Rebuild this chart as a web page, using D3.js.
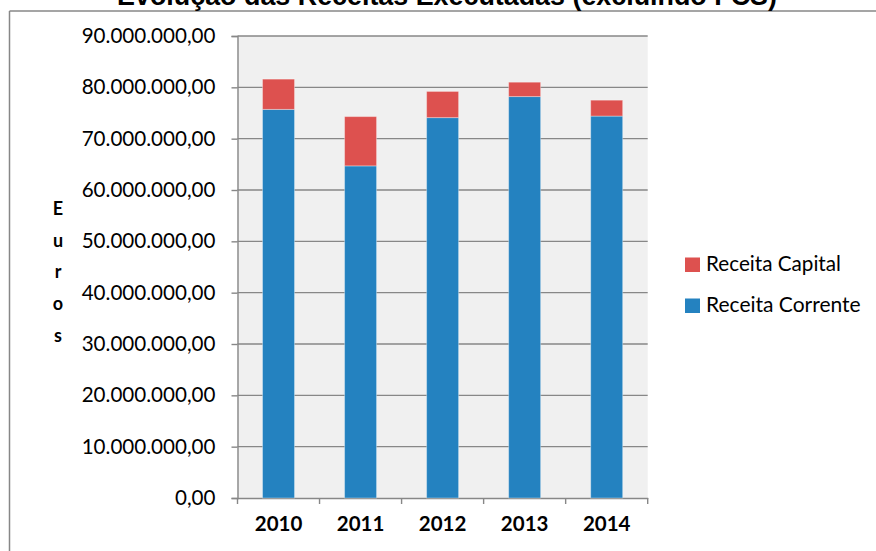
<!DOCTYPE html>
<html><head><meta charset="utf-8">
<script src="https://cdn.jsdelivr.net/npm/d3@7"></script>
<style>body{margin:0;background:#fff;}svg{display:block;}</style>
</head><body>
<svg id="c" width="876" height="551"></svg>
<script>
const years = ["2010","2011","2012","2013","2014"];
const receitaCorrente = [75700000, 64700000, 74100000, 78200000, 74400000];
const receitaCapital  = [5900000, 9600000, 5100000, 2800000, 3100000];
const yTicks = [0,10000000,20000000,30000000,40000000,50000000,60000000,70000000,80000000,90000000];
const seriesNames = ["Receita Capital","Receita Corrente"];
const title = "Evolução das Receitas Executadas (excluindo FCS)";
const axisTitle = "Euros";

const svg = d3.select("#c");
const L = 237.5, R = 647.7, T = 36, B = 498;
const grid = "#878787";
const colors = {cap:"#dd514f", cor:"#2482c0"};
const fmt = d3.formatLocale({decimal:",", thousands:".", grouping:[3], currency:["","€"]}).format(",.2f");

// border
svg.append("line").attr("x1",9.5).attr("x2",880).attr("y1",11).attr("y2",11).attr("stroke",grid).attr("stroke-width",1.5);
svg.append("line").attr("x1",9.5).attr("x2",9.5).attr("y1",11).attr("y2",560).attr("stroke",grid).attr("stroke-width",1.5);

// title
const tt = svg.append("text").text(title).attr("x",447).attr("y",4.5).attr("text-anchor","middle")
  .attr("font-family","'Liberation Sans', Arial, sans-serif").attr("font-weight","bold").attr("font-size",20);
const tl = tt.node().getComputedTextLength();
tt.attr("font-size", 20*660/tl);

const x = d3.scaleBand().domain(years).range([L, R]).padding(0);
const y = d3.scaleLinear().domain([0, 90000000]).range([B, T]);

svg.append("rect").attr("x",L).attr("y",T).attr("width",R-L).attr("height",B-T).attr("fill","#f0f0f0");

// gridlines
svg.append("g").selectAll("line").data(yTicks.filter(d=>d>0)).join("line")
  .attr("x1",L).attr("x2",R).attr("y1",d=>y(d)).attr("y2",d=>y(d))
  .attr("stroke",grid).attr("stroke-width",1.4);

// y axis
const yAxis = svg.append("g").attr("transform",`translate(${L},0)`)
  .call(d3.axisLeft(y).tickValues(yTicks).tickFormat(fmt).tickSize(6).tickPadding(16));
yAxis.select(".domain").attr("stroke",grid).attr("stroke-width",1.4);
yAxis.selectAll(".tick line").attr("stroke",grid).attr("stroke-width",1.4);
yAxis.selectAll(".tick text").attr("font-family","Lato, sans-serif").attr("font-size",20.6).attr("fill","#000");

// x axis
const xAxis = svg.append("g").attr("transform",`translate(0,${B})`)
  .call(d3.axisBottom(x).tickSize(0).tickPadding(18));
xAxis.select(".domain").attr("stroke",grid).attr("stroke-width",1.4);
xAxis.selectAll(".tick text").attr("font-family","Lato, sans-serif").attr("font-weight","bold").attr("font-size",20.5).attr("fill","#000");
// boundary ticks
const bounds = years.map(d=>x(d)).concat([R]);
svg.append("g").selectAll("line").data(bounds).join("line")
  .attr("x1",d=>d).attr("x2",d=>d).attr("y1",B).attr("y2",B+6).attr("stroke",grid).attr("stroke-width",1.4);

// bars
const bw = x.bandwidth()*0.39;
const bars = svg.append("g");
years.forEach((yr,i)=>{
  const cx = x(yr) + x.bandwidth()/2;
  bars.append("rect").attr("x",cx-bw/2).attr("width",bw)
    .attr("y",y(receitaCorrente[i])).attr("height",y(0)-y(receitaCorrente[i]))
    .attr("fill",colors.cor).attr("stroke","rgba(255,255,255,0.35)").attr("stroke-width",1);
  bars.append("rect").attr("x",cx-bw/2).attr("width",bw)
    .attr("y",y(receitaCorrente[i]+receitaCapital[i])).attr("height",y(receitaCorrente[i])-y(receitaCorrente[i]+receitaCapital[i]))
    .attr("fill",colors.cap).attr("stroke","rgba(255,255,255,0.35)").attr("stroke-width",1);
});

// axis title
const letters = axisTitle.split("");
svg.append("g").selectAll("text").data(letters).join("text")
  .attr("x",58).attr("y",(d,i)=>215+i*31.7).attr("text-anchor","middle")
  .attr("font-family","Lato, sans-serif").attr("font-weight","bold").attr("font-size",18).text(d=>d);

// legend
const leg = svg.append("g");
const legCols = [colors.cap, colors.cor];
const legTargets = [135, 156];
seriesNames.forEach((n,i)=>{
  const yy = 257.5 + i*41;
  leg.append("rect").attr("x",685).attr("y",yy).attr("width",15).attr("height",14.5).attr("fill",legCols[i]);
  const t = leg.append("text").attr("x",706).attr("y",yy+13.5).text(n)
    .attr("font-family","Lato, sans-serif").attr("font-size",20).attr("fill","#000");
  const w = t.node().getComputedTextLength();
  t.attr("font-size", Math.min(21, 20*legTargets[i]/w));
});
</script>
</body></html>
